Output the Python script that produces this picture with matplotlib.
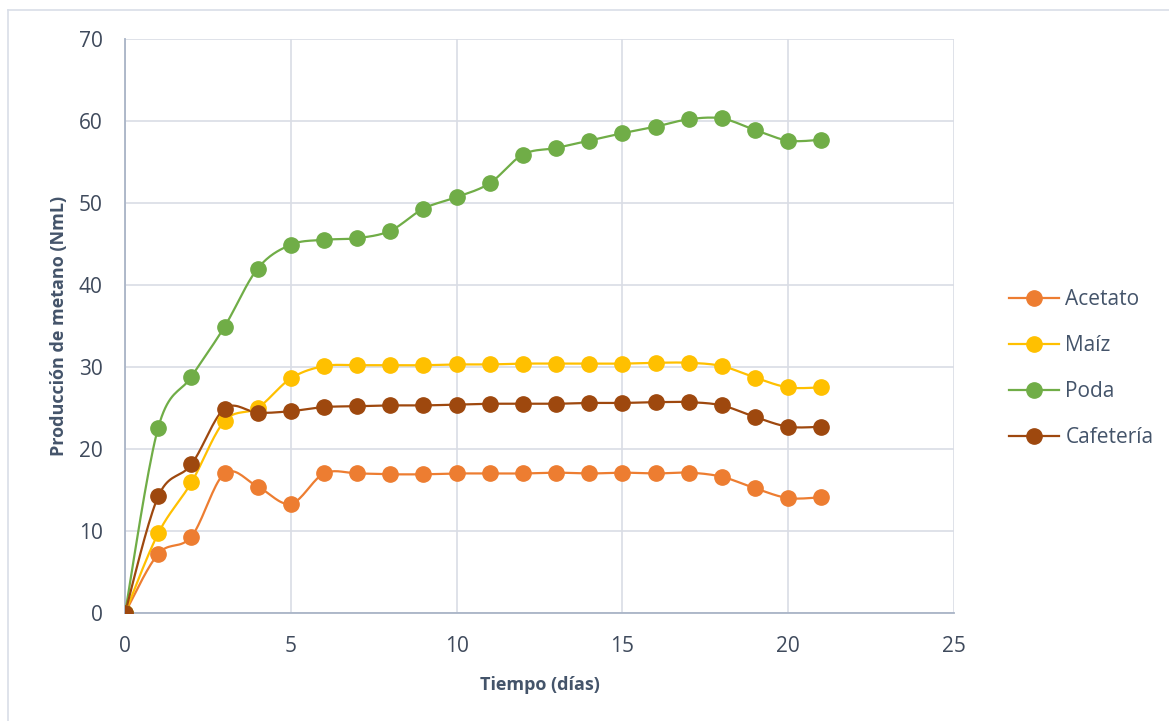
import numpy as np
import matplotlib.pyplot as plt
from matplotlib.lines import Line2D

dias = list(range(22))
acetato = [0, 7.2, 9.3, 17.0, 15.4, 13.3, 17.0, 17.0, 16.9, 16.9, 17.0, 17.0, 17.0, 17.1, 17.0, 17.1, 17.0, 17.1, 16.6, 15.2, 14.0, 14.1]
maiz = [0, 9.7, 15.9, 23.4, 25.0, 28.6, 30.1, 30.2, 30.2, 30.2, 30.3, 30.3, 30.4, 30.4, 30.4, 30.4, 30.5, 30.5, 30.1, 28.7, 27.5, 27.5]
poda = [0, 22.6, 28.8, 34.9, 42.0, 44.9, 45.5, 45.7, 46.6, 49.3, 50.7, 52.4, 55.9, 56.7, 57.6, 58.5, 59.3, 60.2, 60.3, 58.9, 57.6, 57.7]
cafeteria = [0, 14.2, 18.1, 24.9, 24.4, 24.6, 25.1, 25.2, 25.3, 25.3, 25.4, 25.5, 25.5, 25.5, 25.6, 25.6, 25.7, 25.7, 25.3, 23.9, 22.7, 22.7]

series = [("Acetato", acetato, "#ED7D31"),
          ("Maíz", maiz, "#FFC000"),
          ("Poda", poda, "#70AD47"),
          ("Cafetería", cafeteria, "#9E480E")]


def suave(x, y, n=20):
    # curva tipo Excel (Bezier con puntos de control Catmull-Rom)
    x = np.asarray(x, float)
    y = np.asarray(y, float)
    xs, ys = [], []
    t = np.linspace(0, 1, n)
    for i in range(len(x) - 1):
        p0 = np.array([x[max(i - 1, 0)], y[max(i - 1, 0)]])
        p1 = np.array([x[i], y[i]])
        p2 = np.array([x[i + 1], y[i + 1]])
        p3 = np.array([x[min(i + 2, len(x) - 1)], y[min(i + 2, len(x) - 1)]])
        c1 = p1 + (p2 - p0) / 6
        c2 = p2 - (p3 - p1) / 6
        b = (np.outer((1 - t) ** 3, p1) + np.outer(3 * (1 - t) ** 2 * t, c1)
             + np.outer(3 * (1 - t) * t ** 2, c2) + np.outer(t ** 3, p2))
        xs.extend(b[:, 0])
        ys.extend(b[:, 1])
    return xs, ys


plt.rcParams['font.family'] = ['Open Sans', 'DejaVu Sans']
fig = plt.figure(figsize=(11.69, 7.21), dpi=100)
ax = fig.add_axes([0.107, 0.150, 0.709, 0.796])

for nombre, vals, color in series:
    sx, sy = suave(dias, vals)
    ax.plot(sx, sy, color=color, lw=1.6, zorder=3)
    ax.plot(dias, vals, 'o', color=color, ms=11, zorder=4)
    ax.plot([], [], '-o', color=color, lw=1.6, ms=11, label=nombre)

ax.set_xlim(0, 25)
ax.set_ylim(0, 70)
ax.set_xticks(range(0, 26, 5))
ax.set_yticks(range(0, 71, 10))
ax.grid(True, color="#D9DDE5", lw=1.2)
ax.set_axisbelow(True)
for s in ["top", "right"]:
    ax.spines[s].set_visible(False)
for s in ["left", "bottom"]:
    ax.spines[s].set_color("#A9B4C6")
    ax.spines[s].set_linewidth(1.3)
ax.tick_params(length=0, labelsize=15, colors="#3F4A5C")
ax.tick_params(axis="y", pad=16)
ax.tick_params(axis="x", pad=17)
ax.set_xlabel("Tiempo (días)", fontsize=13, fontweight="bold", color="#44546A", labelpad=13)
ax.set_ylabel("Producción de metano (NmL)", fontsize=13, fontweight="bold", color="#44546A", labelpad=8)

leg = ax.legend(loc="center left", bbox_to_anchor=(1.044, 0.425), frameon=False,
                fontsize=15, labelspacing=1.2, handlelength=2.4, handletextpad=0.3)
for txt in leg.get_texts():
    txt.set_color("#44546A")

# borde del area del grafico
borde = "#D9DEE8"
fig.add_artist(Line2D([8 / 1169, 1], [1 - 10 / 721] * 2, transform=fig.transFigure, color=borde, lw=1.2))
fig.add_artist(Line2D([8 / 1169] * 2, [0, 1 - 10 / 721], transform=fig.transFigure, color=borde, lw=1.2))

fig.savefig("out.png", dpi=100)
